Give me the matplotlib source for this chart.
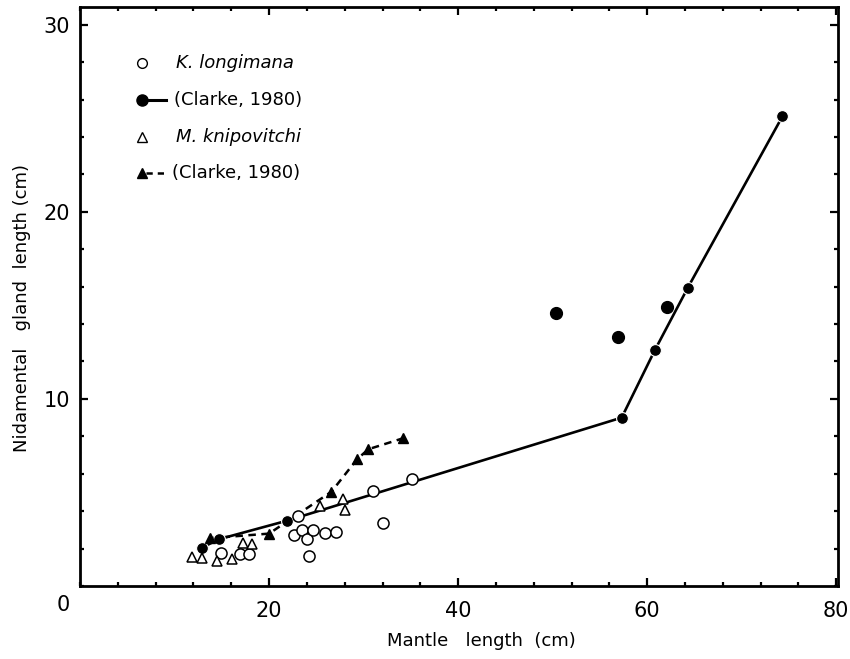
"""Nidamental gland length vs mantle length"""

import matplotlib
matplotlib.use("Agg")

import matplotlib.pyplot as plt
from matplotlib.ticker import MultipleLocator

# K. longimana (open circles)
kl_x = [14.9, 16.9, 17.9, 22.6, 23.1, 23.5, 24.0, 24.2, 24.7, 25.9, 27.1, 31.0, 32.1, 35.1]
kl_y = [1.78, 1.69, 1.69, 2.71, 3.76, 2.98, 2.50, 1.62, 2.98, 2.82, 2.90, 5.08, 3.39, 5.70]

# K. longimana, Clarke 1980 (filled circles, joined)
kl_c_x = [12.9, 14.7, 21.9, 57.3, 60.8, 64.3, 74.3]
kl_c_y = [2.05, 2.50, 3.49, 9.00, 12.6, 15.95, 25.1]
# Clarke 1980 filled circles not on the line
kl_c2_x = [50.3, 56.9, 62.1]
kl_c2_y = [14.6, 13.3, 14.9]

# M. knipovitchi (open triangles)
mk_x = [11.8, 12.9, 14.5, 16.05, 17.2, 18.2, 25.4, 27.8, 28.0]
mk_y = [1.53, 1.48, 1.35, 1.43, 2.32, 2.25, 4.28, 4.63, 4.06]

# M. knipovitchi, Clarke 1980 (filled triangles, dashed)
mk_c_x = [13.7, 20.0, 26.6, 29.3, 30.5, 34.2]
mk_c_y = [2.55, 2.80, 5.04, 6.77, 7.31, 7.90]

x_ticks = [20, 40, 60, 80]
y_ticks = [10, 20, 30]

plt.rcParams["font.family"] = ["DejaVu Sans"]

fig = plt.figure(figsize=(8.5, 6.59), dpi=100)
ax = fig.add_axes([0.0941, 0.1108, 0.892, 0.8786])

ax.plot(kl_c_x, kl_c_y, "-", color="black", lw=1.9, zorder=2)
ax.plot(kl_c_x, kl_c_y, "o", color="black", ms=8.5, mec="white", mew=0.8, zorder=3)
ax.plot(kl_c2_x, kl_c2_y, "o", color="black", ms=8.5, zorder=3)
ax.plot(mk_c_x, mk_c_y, "--", color="black", lw=1.8, dashes=(3, 2.2), zorder=2)
ax.plot(mk_c_x, mk_c_y, "^", color="black", ms=7.5, zorder=3)
ax.plot(kl_x, kl_y, "o", mfc="white", mec="black", ms=8, mew=1.1, zorder=4)
ax.plot(mk_x, mk_y, "^", mfc="white", mec="black", ms=7.5, mew=1.1, zorder=4)

ax.set_xlim(0, 80.2)
ax.set_ylim(0, 30.95)
ax.set_xticks(x_ticks)
ax.set_yticks(y_ticks)
ax.xaxis.set_minor_locator(MultipleLocator(4))
ax.yaxis.set_minor_locator(MultipleLocator(2))
ax.tick_params(which="both", direction="in", top=True, right=True,
               width=1.6, labelsize=15)
ax.tick_params(which="major", length=6)
ax.tick_params(which="minor", length=3)
ax.tick_params(axis="x", pad=11)
ax.tick_params(axis="y", pad=7)
for s in ax.spines.values():
    s.set_linewidth(2)

# shared origin label
ax.annotate("0", xy=(0, 0), xytext=(-17, -19), textcoords="offset pixels",
            ha="center", va="center", fontsize=15)

ax.set_xlabel("Mantle   length  (cm)", fontsize=13)
ax.set_ylabel("Nidamental   gland  length (cm)", fontsize=13)
ax.xaxis.set_label_coords(0.53, -0.08)
ax.yaxis.set_label_coords(-0.065, 0.48)

# legend drawn by hand, like the original figure
def fx(px):
    return (px - 80) / 758


def fy(py):
    return (586 - py) / 579


tr = ax.transAxes
ax.plot([fx(142)], [fy(63)], "o", mfc="white", mec="black", ms=7, transform=tr)
ax.text(fx(176), fy(63), "K. longimana", style="italic", fontsize=13,
        va="center", transform=tr)
ax.plot([fx(146), fx(166)], [fy(100), fy(100)], "-", color="black", lw=2.2, transform=tr)
ax.plot([fx(142)], [fy(100)], "o", color="black", ms=8, transform=tr)
ax.text(fx(174), fy(100), "(Clarke, 1980)", fontsize=13, va="center", transform=tr)
ax.plot([fx(142)], [fy(137)], "^", mfc="white", mec="black", ms=6.5, transform=tr)
ax.text(fx(176), fy(137), "M. knipovitchi", style="italic", fontsize=13,
        va="center", transform=tr)
ax.plot([fx(146), fx(167)], [fy(173), fy(173)], "--", color="black", lw=1.8,
        dashes=(2.5, 2), transform=tr)
ax.plot([fx(142)], [fy(173)], "^", color="black", ms=6.5, transform=tr)
ax.text(fx(172), fy(173), "(Clarke, 1980)", fontsize=13, va="center", transform=tr)

fig.savefig("out.png", dpi=100)
plt.close(fig)
